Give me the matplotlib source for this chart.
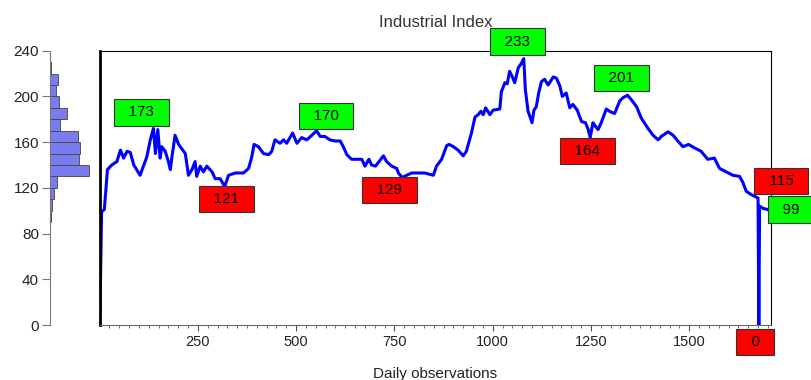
import numpy as np
import matplotlib
matplotlib.use("Agg")
import matplotlib.pyplot as plt
from matplotlib.ticker import MultipleLocator

plt.rcParams['font.family'] = ['Liberation Sans', 'DejaVu Sans']

# Данные
obs = [1, 5, 12, 20, 31, 44, 53, 61, 70, 78, 87, 103, 120, 129, 137, 142, 148, 154, 158, 167,
       175, 180, 184, 192, 201, 218, 226, 235, 243, 247, 256, 264, 273, 286, 294, 307, 318, 328,
       345, 366, 379, 387, 393, 404, 417, 430, 438, 446, 459, 468, 476, 491, 502, 514, 527, 540,
       552, 561, 573, 586, 599, 612, 620, 629, 641, 654, 667, 675, 685, 692, 702, 711, 722, 730,
       743, 756, 760, 770, 781, 794, 811, 827, 849, 857, 870, 883, 889, 900, 912, 925, 933, 946,
       955, 963, 970, 976, 982, 993, 1001, 1018, 1022, 1031, 1037, 1043, 1050, 1056, 1065, 1073,
       1079, 1083, 1090, 1096, 1100, 1105, 1111, 1117, 1124, 1132, 1141, 1154, 1162, 1171, 1177,
       1187, 1196, 1204, 1215, 1226, 1236, 1243, 1248, 1255, 1261, 1268, 1276, 1289, 1297, 1310,
       1323, 1332, 1343, 1353, 1366, 1378, 1395, 1408, 1421, 1429, 1446, 1459, 1471, 1484, 1498,
       1513, 1530, 1547, 1564, 1577, 1594, 1611, 1628, 1636, 1645, 1658, 1670, 1675, 1677, 1679,
       1688, 1700, 1708]
index = [10, 99, 101, 136, 140, 143, 153, 146, 152, 151, 140, 131, 147, 162, 172, 150, 171, 146, 156, 152,
         143, 136, 147, 166, 158, 150, 131, 136, 143, 130, 139, 134, 139, 134, 128, 128, 121, 131,
         133, 133, 137, 147, 158, 156, 150, 149, 152, 162, 159, 162, 159, 168, 159, 164, 162, 166,
         170, 165, 165, 162, 161, 161, 156, 149, 145, 145, 145, 139, 145, 140, 139, 143, 148, 143,
         139, 137, 133, 129, 131, 133, 133, 133, 131, 139, 145, 157, 158, 156, 153, 148, 152, 168,
         182, 184, 187, 184, 190, 184, 188, 189, 204, 212, 211, 222, 217, 212, 225, 229,
         233, 206, 187, 181, 177, 188, 191, 203, 213, 215, 210, 217, 216, 209, 200,
         203, 190, 193, 188, 178, 177, 171, 164, 177, 174, 171, 177, 189, 187, 185,
         196, 199, 201, 197, 191, 181, 172, 166, 162, 165, 169, 166, 161, 156, 158,
         155, 152, 145, 146, 137, 134, 131, 130, 125, 117, 114, 112, 111, 0, 104,
         102, 101, 99]

# Гистограмма слева (корзины по 10)
hist_bins = [90, 100, 110, 120, 130, 140, 150, 160, 170, 180, 190, 200, 210, 220]
hist_counts = [9, 18, 36, 62, 347, 258, 267, 249, 89, 151, 80, 53, 71, 9]

# Подписи экстремумов: текст, x, y (центр), цвет
lab_text = ['173', '121', '170', '129', '233', '164', '201', '115', '99', '0']
lab_x = [106, 322, 576, 738, 1063, 1241, 1327, 1734, 1758, 1668]
lab_y = [186, 110, 183, 118, 248, 152, 216, 126, 101, -15]
lab_col = ['#00ff00', '#ff0000', '#00ff00', '#ff0000', '#00ff00', '#ff0000', '#00ff00',
           '#ff0000', '#00ff00', '#ff0000']

fig = plt.figure(figsize=(8.11, 3.8), dpi=100)

# Основной график
ax = fig.add_axes([0.1233, 0.1447, 0.8274, 0.7219])
ax.plot(obs, index, color='#0000ff', lw=2.2)
ax.set_xlim(1, 1708)
ax.set_ylim(0, 240)
ax.xaxis.set_major_locator(MultipleLocator(250))
ax.xaxis.set_minor_locator(MultipleLocator(25))
ax.set_yticks([])
ax.tick_params(axis='x', which='major', length=4, color='#555555', labelsize=10.5,
               labelcolor='#222222', pad=3)
ax.tick_params(axis='x', which='minor', length=2.5, color='#555555')
ax.spines['left'].set_linewidth(2)
ax.spines['bottom'].set_color('#666666')
ax.set_title('Industrial Index', fontsize=12, color='#333333', pad=17)
ax.set_xlabel('Daily observations', fontsize=11, color='#222222', labelpad=13)

for t, x, y, c in zip(lab_text, lab_x, lab_y, lab_col):
    ax.text(x, y, '  ' + t + '  ', ha='center', va='center', fontsize=11, color='black',
            clip_on=False, zorder=5,
            bbox=dict(boxstyle='square,pad=0.4', fc=c, ec='#333333', lw=0.8))

# Гистограмма распределения
axh = fig.add_axes([0.0617, 0.1447, 0.055, 0.7219])
axh.barh(hist_bins, hist_counts, height=10, align='edge', color='#7b7bf0',
         edgecolor='#444444', linewidth=0.6)
axh.set_ylim(0, 240)
axh.set_xlim(0, 400)
axh.set_yticks(np.arange(0, 241, 40))
axh.set_xticks([])
for s in ['top', 'right', 'bottom']:
    axh.spines[s].set_visible(False)
axh.spines['left'].set_color('#777777')
axh.tick_params(axis='y', length=6, color='#777777', labelsize=11, labelcolor='#222222', pad=2)

fig.savefig('out.png', dpi=100)
